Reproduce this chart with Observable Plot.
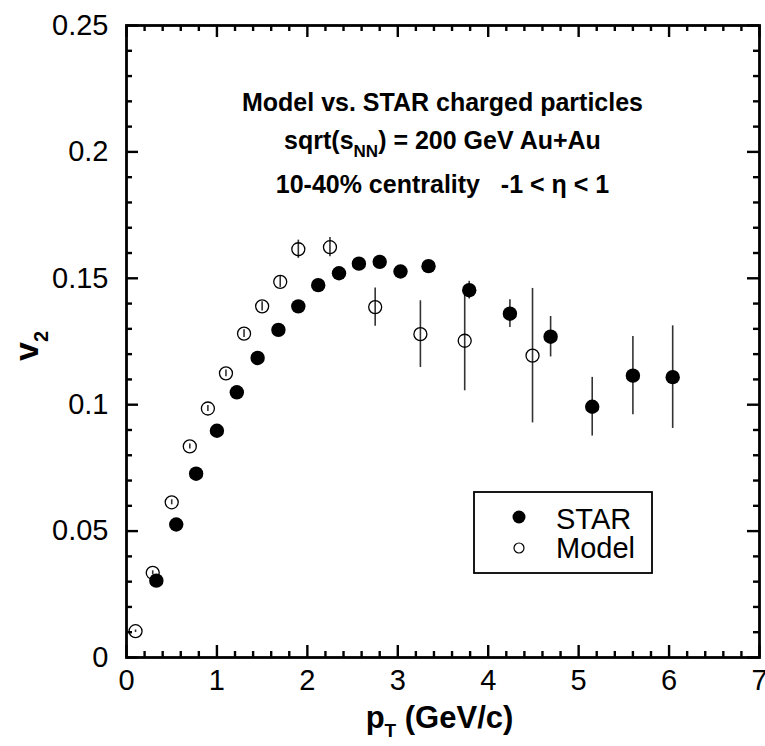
<!DOCTYPE html>
<html>
<head>
<meta charset="utf-8">
<script src="https://cdn.jsdelivr.net/npm/d3@7"></script>
<script src="https://cdn.jsdelivr.net/npm/@observablehq/plot@0.6"></script>
<style>
  html, body { margin: 0; padding: 0; background: #fff; }
  #chart svg { display: block; }
</style>
</head>
<body>
<div id="chart"></div>
<script>
// ---- Data ----
const ptSTAR  = [0.33, 0.55, 0.77, 1.00, 1.22, 1.45, 1.68, 1.90, 2.12, 2.35, 2.57, 2.80, 3.03, 3.34, 3.79, 4.24, 4.69, 5.15, 5.60, 6.04];
const v2STAR  = [0.0304, 0.0526, 0.0727, 0.0897, 0.1049, 0.1185, 0.1296, 0.1389, 0.1473, 0.1520, 0.1558, 0.1565, 0.1527, 0.1548, 0.1453, 0.1360, 0.1269, 0.0992, 0.1115, 0.1109];
const errSTAR = [0.001, 0.001, 0.001, 0.001, 0.001, 0.001, 0.001, 0.001, 0.001, 0.001, 0.001, 0.0012, 0.0013, 0.0015, 0.0035, 0.0055, 0.008, 0.0116, 0.0155, 0.0203];

const ptModel  = [0.10, 0.29, 0.50, 0.70, 0.90, 1.10, 1.30, 1.50, 1.70, 1.90, 2.25, 2.75, 3.25, 3.74, 4.49];
const v2Model  = [0.0104, 0.0335, 0.0614, 0.0835, 0.0985, 0.1124, 0.1281, 0.1389, 0.1486, 0.1615, 0.1623, 0.1386, 0.1279, 0.1253, 0.1194];
const errModel = [0.0005, 0.0008, 0.001, 0.001, 0.0012, 0.0013, 0.0015, 0.0018, 0.0022, 0.0036, 0.0038, 0.0076, 0.0132, 0.0198, 0.0266];

const xMajor = [0, 1, 2, 3, 4, 5, 6, 7];
const xMinor = d3.range(0, 7.0001, 0.2).map(v => +v.toFixed(1)).filter(v => !xMajor.includes(v));
const yMajor = [0, 0.05, 0.1, 0.15, 0.2, 0.25];
const yMajorLabels = ["0", "0.05", "0.1", "0.15", "0.2", "0.25"];
const yMinor = d3.range(0, 0.2501, 0.01).map(v => +v.toFixed(2)).filter(v => !yMajor.includes(v));

const titleLines = ["Model vs. STAR charged particles", "10-40% centrality   -1 < \u03b7 < 1"];
const legendLabels = ["STAR", "Model"];

const star = ptSTAR.map((p, i) => ({pt: p, v: v2STAR[i], e: errSTAR[i]}));
const model = ptModel.map((p, i) => ({pt: p, v: v2Model[i], e: errModel[i]}));

const FONT = "'Liberation Sans', Arial, Helvetica, sans-serif";
const W = 765, H = 746;
const mL = 126, mR = 6, mT = 25, mB = 89;
const XD = [0, 7], YD = [0, 0.25];
const innerW = W - mL - mR, innerH = H - mT - mB;
// inward tick lengths (px), converted to data units per axis
const MAJ = 12, MIN = 6, TW = 2.4;
const kx = (XD[1] - XD[0]) / innerW, ky = (YD[1] - YD[0]) / innerH;

const tickStyle = {stroke: "#000", strokeWidth: TW};
function xTickMarks(vals, len) {
  return [
    Plot.ruleX(vals, {x: d => d, y1: () => YD[0], y2: () => YD[0] + len * ky, ...tickStyle}),
    Plot.ruleX(vals, {x: d => d, y1: () => YD[1], y2: () => YD[1] - len * ky, ...tickStyle})
  ];
}
function yTickMarks(vals, len) {
  return [
    Plot.ruleY(vals, {y: d => d, x1: () => XD[0], x2: () => XD[0] + len * kx, ...tickStyle}),
    Plot.ruleY(vals, {y: d => d, x1: () => XD[1], x2: () => XD[1] - len * kx, ...tickStyle})
  ];
}

const plot = Plot.plot({
  width: W, height: H,
  marginLeft: mL, marginRight: mR, marginTop: mT, marginBottom: mB,
  style: {fontFamily: FONT, fontSize: "29px", color: "#000", background: "#fff", overflow: "visible"},
  x: {domain: XD},
  y: {domain: YD},
  marks: [
    // error bars
    Plot.ruleX(model, {x: "pt", y1: d => d.v - d.e, y2: d => d.v + d.e, stroke: "#333", strokeWidth: 1.6}),
    Plot.ruleX(star, {x: "pt", y1: d => d.v - d.e, y2: d => d.v + d.e, stroke: "#333", strokeWidth: 1.6}),
    // points
    Plot.dot(model, {x: "pt", y: "v", r: 6.5, fill: "none", stroke: "#000", strokeWidth: 1.3}),
    Plot.dot(star, {x: "pt", y: "v", r: 7.2, fill: "#000", stroke: "none"}),
    // inward ticks on all four sides
    ...xTickMarks(xMajor, MAJ), ...xTickMarks(xMinor, MIN),
    ...yTickMarks(yMajor, MAJ), ...yTickMarks(yMinor, MIN),
    // tick labels
    Plot.axisX({ticks: xMajor, tickSize: 0, tickPadding: 12, tickFormat: d => String(d), label: null, fontSize: 29}),
    Plot.axisY({ticks: yMajor, tickSize: 0, tickPadding: 18, tickFormat: d => yMajorLabels[yMajor.indexOf(d)], label: null, fontSize: 29}),
    Plot.frame({stroke: "#000", strokeWidth: 2.8})
  ]
});

document.getElementById("chart").appendChild(plot);

const svg = d3.select(plot);
const cx = mL + innerW / 2, cy = mT + innerH / 2;

// Title block inside the frame
const tg = svg.append("g").attr("font-family", FONT).attr("font-weight", "bold").attr("font-size", 25).attr("text-anchor", "middle").attr("fill", "#000");
tg.append("text").attr("x", cx).attr("y", 111).text(titleLines[0]);
const t2 = tg.append("text").attr("x", cx).attr("y", 149);
t2.append("tspan").text("sqrt(s");
t2.append("tspan").attr("font-size", 17).attr("dy", 8).text("NN");
t2.append("tspan").attr("dy", -8).text(") = 200 GeV Au+Au");
tg.append("text").attr("x", cx).attr("y", 193).style("white-space", "pre").text(titleLines[1]);

// Axis labels
const xl = svg.append("text").attr("font-family", FONT).attr("font-weight", "bold").attr("font-size", 31)
  .attr("text-anchor", "middle").attr("x", cx - 3).attr("y", 728);
xl.append("tspan").text("p");
xl.append("tspan").attr("font-size", 19).attr("dy", 9).text("T");
xl.append("tspan").attr("dy", -9).text(" (GeV/c)");

const yl = svg.append("text").attr("font-family", FONT).attr("font-weight", "bold").attr("font-size", 34)
  .attr("text-anchor", "middle").attr("transform", `translate(38,${cy + 5}) rotate(-90)`);
yl.append("tspan").text("v");
yl.append("tspan").attr("font-size", 20).attr("dy", 10).text("2");

// Legend
const lg = svg.append("g").attr("font-family", FONT).attr("text-anchor", "start");
lg.append("rect").attr("x", 474).attr("y", 492).attr("width", 178).attr("height", 81)
  .attr("fill", "#fff").attr("stroke", "#000").attr("stroke-width", 1.8);
lg.append("circle").attr("cx", 519).attr("cy", 517).attr("r", 6.5).attr("fill", "#000");
lg.append("circle").attr("cx", 519).attr("cy", 548).attr("r", 5).attr("fill", "none").attr("stroke", "#000").attr("stroke-width", 1.2);
lg.append("text").attr("x", 556).attr("y", 529).attr("font-size", 29).text(legendLabels[0]);
lg.append("text").attr("x", 556).attr("y", 558).attr("font-size", 29).text(legendLabels[1]);
</script>
</body>
</html>
